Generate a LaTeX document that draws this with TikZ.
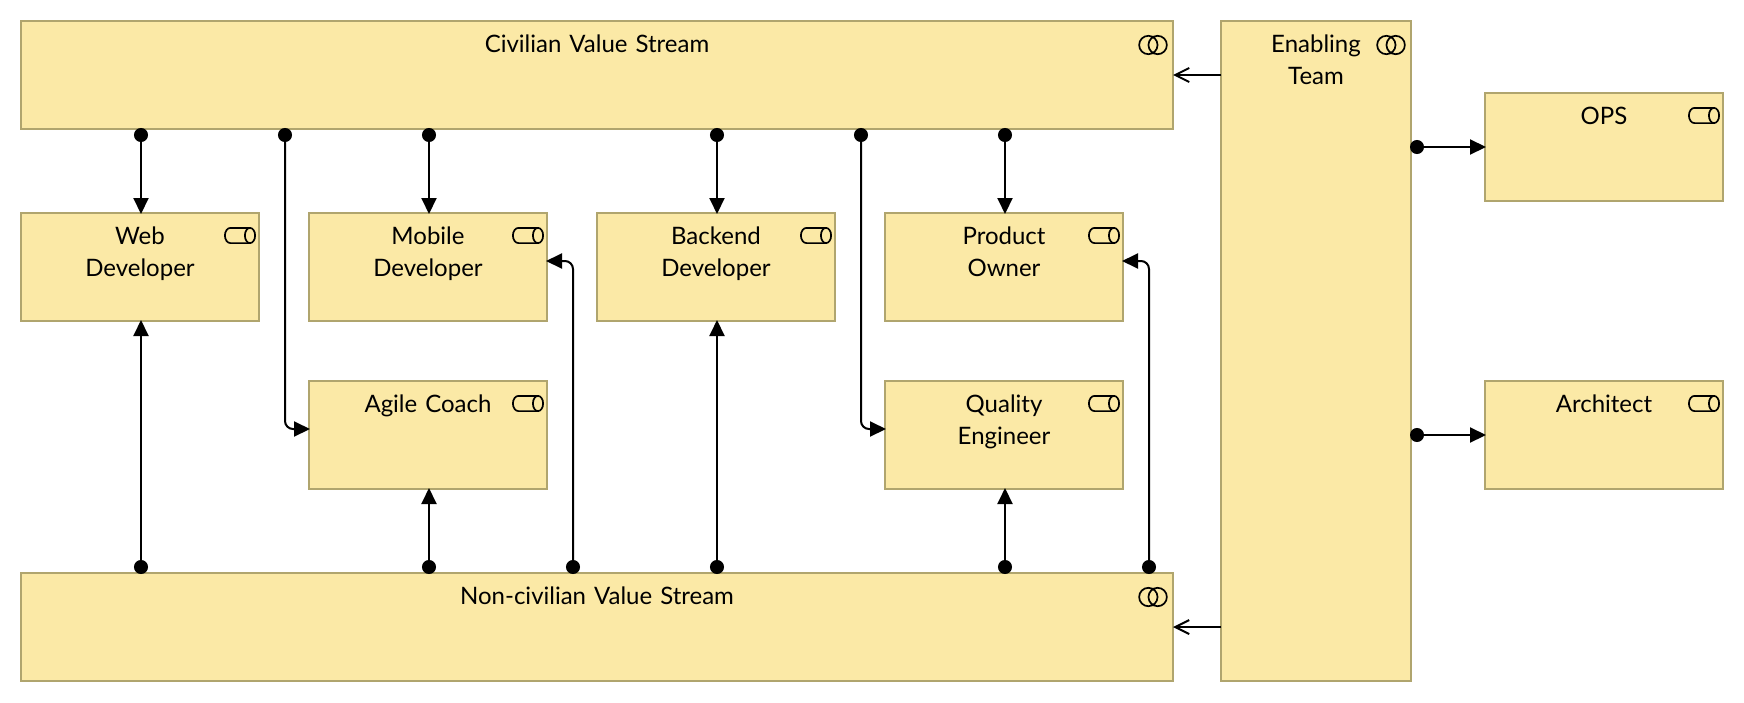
\documentclass[tikz,border=0pt]{standalone}
\usepackage{fontspec}
\setmainfont{Lato}
\usepackage{tikz}
\usetikzlibrary{arrows.meta,positioning}
\definecolor{boxfill}{HTML}{FBE9A6}
\definecolor{boxline}{HTML}{B0A56E}
\tikzset{
  elem/.style = {draw=boxline, fill=boxfill, line width=1pt, rectangle, inner sep=0pt, outer sep=0pt, align=center, font=\fontsize{12}{16}\selectfont, text height=15.5pt},
  role/.style = {elem, text width=119pt, text depth=38.5pt},
  stream/.style = {elem, text width=576pt, text depth=38.5pt},
  team/.style = {elem, text width=95pt, text depth=314.5pt},
  link/.style = {line width=1pt, shorten >=-0.5pt, shorten <=-0.5pt, {Circle[length=7pt]}-{Triangle[length=8pt,width=7.5pt]}},
  elbow/.style = {link, rounded corners=4pt},
  flow/.style = {line width=1pt, -{Straight Barb[length=7pt,width=7pt]}},
  collab/.pic = {
    \draw[line width=0.85pt] (-2.33pt,0) circle (4.6pt) (2.33pt,0) circle (4.6pt);
  },
  rolecyl/.pic = {
    \draw[line width=0.85pt] (5pt,3.8pt) -- (-4.8pt,3.8pt) arc[start angle=90, end angle=270, x radius=2.75pt, y radius=3.8pt] -- (5pt,-3.8pt);
    \draw[line width=0.85pt] (5pt,0) ellipse (2.55pt and 3.8pt);
  }
}
\begin{document}
\begin{tikzpicture}
  \useasboundingbox (0,0) rectangle (872pt,-351pt);
  \node[stream, anchor=north west] (civilian) at (10.5pt,-10.5pt) {Civilian Value Stream};
  \node[team, right=24pt of civilian.north east, anchor=north west] (enabling) {Enabling\\Team};
  \node[role, below=42pt of civilian.south west, anchor=north west] (web) {Web\\Developer};
  \node[role, right=25pt of web] (mobile) {Mobile\\Developer};
  \node[role, right=25pt of mobile] (backend) {Backend\\Developer};
  \node[role, right=25pt of backend] (product) {Product\\Owner};
  \node[role, below=30pt of mobile] (agile) {Agile Coach};
  \node[role, below=30pt of product] (quality) {Quality\\Engineer};
  \node[stream, anchor=north west] (noncivilian) at ([yshift=-42pt]civilian.west |- agile.south) {Non-civilian Value Stream};
  \node[role, anchor=north west] (ops) at ([xshift=37pt,yshift=-36pt]enabling.north east) {OPS};
  \node[role, below=90pt of ops] (architect) {Architect};
  % icons
  \foreach \n in {civilian,noncivilian,enabling}
    \pic at ([xshift=-10pt,yshift=-12pt]\n.north east) {collab};
  \foreach \n in {web,mobile,backend,product,agile,quality,ops,architect}
    \pic at ([xshift=-9.5pt,yshift=-11.25pt]\n.north east) {rolecyl};
  % civilian stream
  \foreach \n in {web,mobile,backend,product}
    \draw[link] ([xshift=0.5pt]\n.north |- civilian.south) -- ([xshift=0.5pt]\n.north);
  \draw[elbow] ([xshift=-12pt]agile.west |- civilian.south) |- ([yshift=3pt]agile.west);
  \draw[elbow] ([xshift=-12pt]quality.west |- civilian.south) |- ([yshift=3pt]quality.west);
  % non-civilian stream
  \foreach \n in {web,agile,backend,quality}
    \draw[link] ([xshift=0.5pt]\n.south |- noncivilian.north) -- ([xshift=0.5pt]\n.south);
  \draw[elbow] ([xshift=13pt]mobile.east |- noncivilian.north) |- ([yshift=3pt]mobile.east);
  \draw[elbow] ([xshift=13pt]product.east |- noncivilian.north) |- ([yshift=3pt]product.east);
  % enabling team
  \draw[link] (enabling.east |- ops) -- (ops.west);
  \draw[link] (enabling.east |- architect) -- (architect.west);
  \draw[flow] (enabling.west |- civilian) -- (civilian.east);
  \draw[flow] (enabling.west |- noncivilian) -- (noncivilian.east);
\end{tikzpicture}
\end{document}
